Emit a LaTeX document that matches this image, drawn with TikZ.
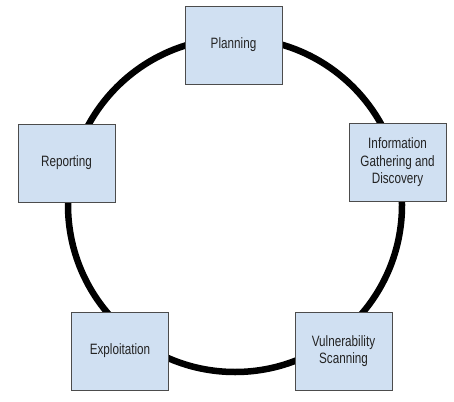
\documentclass[tikz,border=0pt]{standalone}
\usepackage{fontspec}
\setmainfont[FakeStretch=0.78]{Liberation Sans}
\begin{document}
\begin{tikzpicture}[x=1pt,y=-1pt,
  stagebox/.style={draw=black!70, line width=0.9pt, fill={rgb,255:red,208;green,224;blue,242},
    minimum width=97pt, minimum height=78pt, inner sep=2pt, align=center,
    font=\fontsize{15}{17.5}\selectfont, text={rgb,255:red,35;green,35;blue,35}},
  ring/.style={line width=6.5pt, draw=black}]
\useasboundingbox (0,0) rectangle (454,401);
\draw[ring] (235,205) circle[radius=167];
\node[stagebox] (plan) at (233.5,45) {Planning};
\node[stagebox] (info) at (397.5,162.5) {Information\\Gathering and\\Discovery};
\node[stagebox] (vuln) at (343.5,351) {Vulnerability\\Scanning};
\node[stagebox] (expl) at (120,351) {Exploitation};
\node[stagebox] (rep) at (66.5,163) {Reporting};
\end{tikzpicture}
\end{document}
